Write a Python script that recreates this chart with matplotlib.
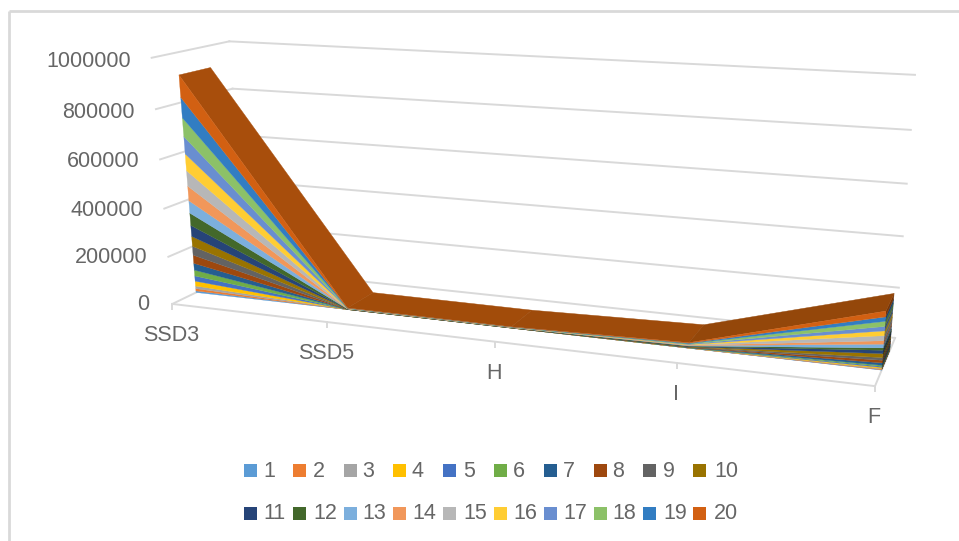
import numpy as np
import matplotlib
matplotlib.use('Agg')
import matplotlib.pyplot as plt
from matplotlib.patches import Polygon, Rectangle

plt.rcParams['font.family'] = ['Liberation Sans', 'DejaVu Sans']

categories = ['SSD3', 'SSD5', 'H', 'I', 'F']
series_names = [str(n) for n in range(1, 21)]
value_ticks = [0, 200000, 400000, 600000, 800000, 1000000]

# stacked series values, one list per category, series 1 first
ssd3 = [7200, 9800, 11400, 21200, 22800, 25400, 29500, 35200, 38300, 42400,
        46600, 52300, 52300, 61500, 64300, 69400, 71500, 76500, 82500, 90000]
ssd5 = [100, 100, 150, 150, 200, 200, 250, 300, 300, 350,
        350, 400, 400, 450, 450, 500, 500, 550, 600, 850]
h = [100, 100, 100, 150, 150, 200, 200, 250, 250, 300,
     300, 300, 350, 350, 400, 400, 400, 450, 500, 550]
i = [300, 300, 400, 500, 600, 700, 800, 900, 1000, 1100,
     1200, 1300, 1300, 1400, 1500, 1600, 1700, 1800, 1900, 2100]
f = [1500, 2500, 2500, 4000, 4000, 4000, 9000, 10000, 10000, 15000,
     12700, 9000, 14000, 12700, 19000, 18000, 16500, 19000, 16500, 21600]

colors = ['#5B9BD5', '#ED7D31', '#A5A5A5', '#FFC000', '#4472C4',
          '#70AD47', '#255E91', '#9E480E', '#636363', '#997300',
          '#264478', '#43682B', '#7CAFDD', '#F1975A', '#B7B7B7',
          '#FFCD33', '#698ED0', '#8CC168', '#327DC2', '#D26012']
top_colors = ['#A84E0C', '#A24C0A', '#9E4B0B', '#94470A']

GRID = '#D9D9D9'
TEXT = '#666666'
FONT = 15.5
VMAX = 1000000.0
FRONT, BACK = 0.31, 0.72   # depth of the area band inside the box


def fit_camera():
    # pixel positions of the box corners (cat 0-1, value 0-1, depth 0-1)
    corners = [((0, 0, 0), (172, 303)), ((0, 1, 0), (152, 58)),
               ((1, 0, 0), (875, 387)), ((0, 0, 1), (245, 270)),
               ((0, 1, 1), (229, 41)), ((1, 1, 1), (915, 75)),
               ((1, 0, 1), (895, 337))]
    rows, rhs = [], []
    for (x, y, z), (u, v) in corners:
        rows.append([x, y, z, 1, 0, 0, 0, 0, -u*x, -u*y, -u*z])
        rhs.append(u)
        rows.append([0, 0, 0, 0, x, y, z, 1, -v*x, -v*y, -v*z])
        rhs.append(v)
    sol = np.linalg.lstsq(np.array(rows, float), np.array(rhs, float), rcond=None)[0]
    return np.append(sol, 1).reshape(3, 4)


CAM = fit_camera()


def project(cat, value, depth):
    # cat in category steps, value in data units, depth 0-1
    p = CAM @ np.array([cat / (len(categories) - 1), value / VMAX, depth, 1.0])
    return p[0] / p[2], p[1] / p[2]


fig = plt.figure(figsize=(9.59, 5.41), dpi=100)
ax = fig.add_axes([0, 0, 1, 1])
ax.set_xlim(0, 959)
ax.set_ylim(541, 0)
ax.axis('off')

# chart frame, only top and left show
ax.plot([8.5, 959], [11, 11], color=GRID, lw=2, solid_capstyle='butt')
ax.plot([8.5, 8.5], [11, 541], color=GRID, lw=2, solid_capstyle='butt')


def line3d(a, b, lw=1.4):
    pa, pb = project(*a), project(*b)
    ax.plot([pa[0], pb[0]], [pa[1], pb[1]], color=GRID, lw=lw, zorder=1)


last = len(categories) - 1

# walls and floor
for v in value_ticks:
    line3d((0, v, 0), (0, v, 1))
    line3d((0, v, 1), (last, v, 1))
line3d((0, 0, 0), (last, 0, 0))
line3d((last, 0, 0), (last, 0, 1))

# tick marks and labels on the value and category axes
for v in value_ticks:
    px, py = project(0, v, 0)
    ax.text(px - (23 if v == 0 else 21), py + 3 * v / VMAX + 0.5, str(v), ha='right',
            va='center', fontsize=FONT, color=TEXT)
for c, name in enumerate(categories):
    px, py = project(c, 0, 0)
    ax.plot([px, px], [py, py + 5], color=GRID, lw=1.4, zorder=1)
    ax.text(px - 1, py + 31.5, name, ha='center', va='center', fontsize=FONT, color=TEXT)

stack = np.cumsum(np.array([ssd3, ssd5, h, i, f], float), axis=1)
base = np.hstack([np.zeros((len(categories), 1)), stack[:, :-1]])

# right end of the band, darker than the front
for s in range(len(series_names)):
    pts = [project(last, base[last, s], FRONT), project(last, stack[last, s], FRONT),
           project(last, stack[last, s], BACK), project(last, base[last, s], BACK)]
    shade = np.array(matplotlib.colors.to_rgb(colors[s])) * 0.55
    ax.add_patch(Polygon(pts, closed=True, fc=shade, ec=shade, lw=0.3, zorder=2))

# top surface of the last series
for c in range(last):
    pts = [project(c, stack[c, -1], FRONT), project(c, stack[c, -1], BACK),
           project(c + 1, stack[c + 1, -1], BACK), project(c + 1, stack[c + 1, -1], FRONT)]
    ax.add_patch(Polygon(pts, closed=True, fc=top_colors[c], ec=top_colors[c], lw=0.3, zorder=3))

# front faces of the stacked areas
for s in range(len(series_names)):
    upper = [project(c, stack[c, s], FRONT) for c in range(last + 1)]
    lower = [project(c, base[c, s], FRONT) for c in range(last, -1, -1)]
    ax.add_patch(Polygon(upper + lower, closed=True, fc=colors[s], ec=colors[s], lw=0.2, zorder=4))

# legend, two rows of ten
row_y = [470.5, 513]
swatch_x = [244, 293, 344, 393, 443, 494, 544, 594, 643, 693]
label_x = [263, 313, 362, 412, 463, 513, 563, 612, 663, 714]
for s, name in enumerate(series_names):
    row, col = divmod(s, 10)
    y = row_y[row]
    ax.add_patch(Rectangle((swatch_x[col], y - 6.5), 13, 13, fc=colors[s], ec='none'))
    ax.text(label_x[col], y + 0.8, name, ha='left', va='center', fontsize=FONT, color=TEXT)

fig.savefig('out.png', dpi=100)
plt.close(fig)
